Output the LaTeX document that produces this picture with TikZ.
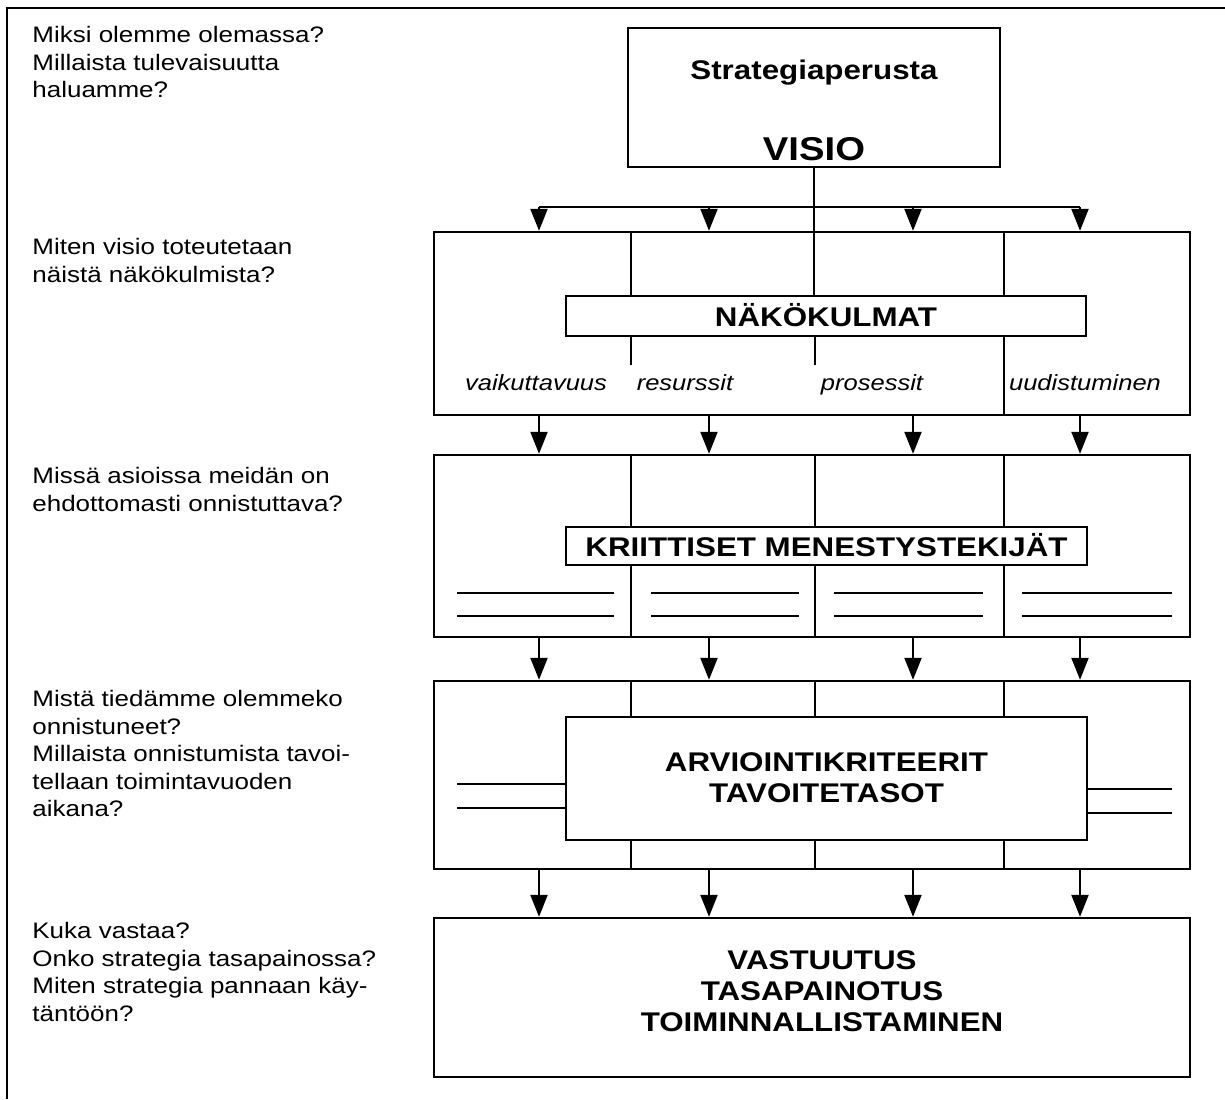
\documentclass[tikz,border=0pt]{standalone}
\usepackage{fontspec}
\setmainfont{Liberation Sans}[FakeStretch=1.16]
\usetikzlibrary{arrows.meta}
\begin{document}
\begin{tikzpicture}[x=0.5pt,y=-0.5pt,
  box/.style={draw,line width=1.2pt,inner sep=0pt,rectangle},
  arr/.style={line width=1.1pt,-{Triangle[width=8.5pt,length=11pt]}},
  ln/.style={line width=1.1pt},
  q/.style={anchor=north west,align=left,inner sep=0pt,font=\fontsize{11.2}{13.75}\selectfont},
  hd/.style={inner sep=0pt,align=center,font=\fontsize{13.5}{15.5}\selectfont\bfseries},
  lab/.style={inner sep=0pt,anchor=base,font=\fontsize{11}{13}\selectfont\itshape},
]
\useasboundingbox (0,0) rectangle (1225,1099);
% frame
\coordinate (frTR) at (1225,8);
\coordinate (frTL) at (7,8);
\coordinate (frBL) at (7,1099);
\draw[line width=1.2pt] (frTR) -- (frTL) -- (frBL);

% left questions
\node[q] (q1) at (32,26) {Miksi olemme olemassa?\\Millaista tulevaisuutta\\haluamme?};
\node[q] (q2) at (32,238) {Miten visio toteutetaan\\näistä näkökulmista?};
\node[q] (q3) at (32,467) {Missä asioissa meidän on\\ehdottomasti onnistuttava?};
\node[q] (q4) at (32,690) {Mistä tiedämme olemmeko\\onnistuneet?\\Millaista onnistumista tavoi-\\tellaan toimintavuoden\\aikana?};
\node[q] (q5) at (32,922) {Kuka vastaa?\\Onko strategia tasapainossa?\\Miten strategia pannaan käy-\\täntöön?};

% top box
\node[box,minimum width=186pt,minimum height=69.5pt] (n0) at (814,97.5) {};
\node[hd,font=\fontsize{13.5}{16}\selectfont\bfseries] (t0a) at (814,73) {Strategiaperusta};
\node[hd,font=\fontsize{16.5}{19}\selectfont\bfseries] (t0b) at (814,149) {VISIO};

% box 2: näkökulmat
\node[box,minimum width=378pt,minimum height=91.5pt] (nk) at (812,323.5) {};
\node[box,fill=white,minimum width=260pt,minimum height=20pt] (nkbar) at (826,316) {};
\node[hd] (nkt) at (826,315) {NÄKÖKULMAT};

% box 3: kriittiset
\node[box,minimum width=378pt,minimum height=91pt] (kr) at (812,546) {};
\node[box,fill=white,minimum width=260.5pt,minimum height=19pt] (krbar) at (826.5,546) {};
\node[hd] (krt) at (826.5,545) {KRIITTISET MENESTYSTEKIJÄT};

% box 4: arviointi
\node[box,minimum width=378pt,minimum height=94pt] (ar) at (812,775) {};
\node[box,fill=white,minimum width=260.5pt,minimum height=61.5pt] (arin) at (826.5,778.5) {};
\node[hd] (art) at (826.5,778) {ARVIOINTIKRITEERIT\\TAVOITETASOT};

% box 5: vastuutus
\node[box,minimum width=378pt,minimum height=79.5pt] (vs) at (812,997.5) {};
\node[hd] (vst) at (822,991) {VASTUUTUS\\TASAPAINOTUS\\TOIMINNALLISTAMINEN};

% column coordinates
\coordinate (d1) at (631,0);
\coordinate (d2) at (815,0);
\coordinate (d3) at (1004,0);
\coordinate (c1) at (539,207);
\coordinate (c2) at (709,207);
\coordinate (c3) at (913,207);
\coordinate (c4) at (1080,207);

% stem and distribution
\draw[ln] (n0.south) -- (n0.south |- nkbar.north);
\draw[ln] (c1) -- (c4);
\foreach \c in {c1,c2,c3,c4}{
  \draw[arr] (\c) -- (\c |- nk.north);
  \draw[arr] (\c |- nk.south) -- (\c |- kr.north);
  \draw[arr] (\c |- kr.south) -- (\c |- ar.north);
  \draw[arr] (\c |- ar.south) -- (\c |- vs.north);
}

% dividers box 2
\draw[ln] (d1 |- nk.north) -- (d1 |- nkbar.north);
\draw[ln] (d3 |- nk.north) -- (d3 |- nkbar.north);
\draw[ln] (d1 |- nkbar.south) -- (631,365);
\draw[ln] (d2 |- nkbar.south) -- (815,365);
\draw[ln] (d3 |- nkbar.south) -- (d3 |- nk.south);
\node[lab] (l1) at (536,390) {vaikuttavuus};
\node[lab] (l2) at (685,390) {resurssit};
\node[lab] (l3) at (872,390) {prosessit};
\node[lab] (l4) at (1085,390) {uudistuminen};

% dividers box 3
\foreach \d in {d1,d2,d3}{
  \draw[ln] (\d |- kr.north) -- (\d |- krbar.north);
  \draw[ln] (\d |- krbar.south) -- (\d |- kr.south);
}
\foreach \a/\b in {457/614,651/799,834/983,1022/1172}{
  \draw[ln] (\a,593) -- (\b,593);
  \draw[ln] (\a,616) -- (\b,616);
}

% dividers box 4
\foreach \d in {d1,d2,d3}{
  \draw[ln] (\d |- ar.north) -- (\d |- arin.north);
  \draw[ln] (\d |- arin.south) -- (\d |- ar.south);
}
\draw[ln] (457,784) -- (arin.west |- 0,784);
\draw[ln] (457,808) -- (arin.west |- 0,808);
\draw[ln] (arin.east |- 0,789) -- (1172,789);
\draw[ln] (arin.east |- 0,813) -- (1172,813);
\end{tikzpicture}
\end{document}
